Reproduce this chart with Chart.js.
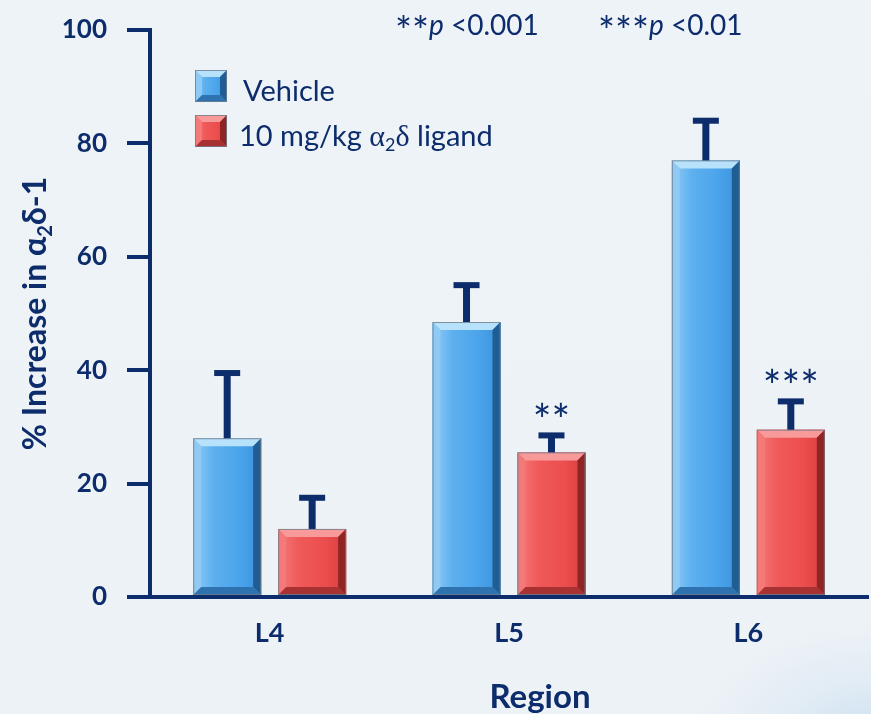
<!DOCTYPE html>
<html><head><meta charset="utf-8">
<script src="https://cdn.jsdelivr.net/npm/chart.js@4"></script>
<style>
html,body{margin:0;padding:0;}
body{width:871px;height:714px;overflow:hidden;position:relative;
background:radial-gradient(ellipse 180px 120px at 100% 104%, rgba(200,222,240,0.9) 0%, rgba(220,233,244,0.6) 55%, rgba(238,243,247,0) 100%),linear-gradient(180deg,#eef3f7 0%,#edf2f6 100%);}
#wrap{position:absolute;left:0;top:0;width:871px;height:714px}
</style></head><body>
<div id="wrap"><canvas id="c" width="871" height="714"></canvas></div>
<script>
// ---- data ----
const regions = ['L4', 'L5', 'L6'];
const vehicleValues = [28, 48.5, 77];
const vehicleErrorTop = [39.5, 55, 84];
const ligandValues = [12, 25.5, 29.5];
const ligandErrorTop = [17.5, 28.5, 34.5];
const ligandSignificance = ['', '**', '***'];
const yTickValues = [0, 20, 40, 60, 80, 100];
const seriesNames = ['Vehicle', '10 mg/kg α₂δ ligand'];
const yTitle = '% Increase in α₂δ-1';
const xTitle = 'Region';
const footnotes = [
  [{t:'**', star:true}, {t:'p', italic:true}, {t:' <0.001'}],
  [{t:'***', star:true}, {t:'p', italic:true}, {t:' <0.01'}]
];

// ---- styles ----
const NAVY = '#0c2c6c';
const FONT = 'Lato, "Open Sans", sans-serif';
const SERIF = '"Liberation Serif", "DejaVu Serif", serif';
const palettes = [
  {grad:['#90cbf5','#5db0ef','#4aa3ea','#3b90d9'], top:'#b8e1fb', left:'#8ecaf4', right:'#1f5d94', bottom:'#2e72b0', base:'#4aa3ea'},
  {grad:['#f47a7a','#f05a5a','#ec4d4d','#d83e3e'], top:'#f89a9a', left:'#f47a7a', right:'#8f2424', bottom:'#a83232', base:'#ee4f4f'}
];

function richSegments(text, size, weight, greekSerif) {
  const segs = [];
  let buf = '';
  const flush = () => { if (buf) { segs.push({t:buf, size, weight, dy:0}); buf=''; } };
  for (const ch of text) {
    if (ch === '₂') {
      flush();
      segs.push({t:'2', size:Math.round(size*0.62), weight, dy:size*0.18});
    } else if (greekSerif && (ch === 'α' || ch === 'δ')) {
      flush();
      segs.push({t:ch, size:Math.round(size*1.05), weight, family:SERIF, dy:0});
    } else buf += ch;
  }
  flush();
  return segs;
}
function fontOf(s){ return (s.italic?'italic ':'') + (s.weight||'normal') + ' ' + s.size + 'px ' + (s.family||FONT); }
// draws segments on an alphabetic baseline
function drawRich(ctx, segs, x, baseline, align) {
  ctx.save();
  ctx.textBaseline = 'alphabetic';
  ctx.textAlign = 'left';
  let w = 0;
  for (const s of segs) { ctx.font = fontOf(s); w += ctx.measureText(s.t).width; }
  let cx = align === 'center' ? x - w/2 : x;
  for (const s of segs) {
    ctx.font = fontOf(s);
    let dy = s.dy || 0;
    if (s.centerY !== undefined) {
      const m = ctx.measureText(s.t);
      dy = (s.centerY + (m.actualBoundingBoxAscent - m.actualBoundingBoxDescent)/2) - baseline;
    }
    ctx.fillText(s.t, cx, baseline + dy);
    cx += ctx.measureText(s.t).width;
  }
  ctx.restore();
}

function drawBevelBox(ctx, left, top, right, bottom, pal, b) {
  const g = ctx.createLinearGradient(left, 0, right, 0);
  g.addColorStop(0, pal.grad[0]); g.addColorStop(0.3, pal.grad[1]);
  g.addColorStop(0.7, pal.grad[2]); g.addColorStop(1, pal.grad[3]);
  ctx.fillStyle = g;
  ctx.fillRect(left, top, right-left, bottom-top);
  const poly = (pts, col) => { ctx.beginPath(); ctx.moveTo(pts[0][0], pts[0][1]); for (let i=1;i<pts.length;i++) ctx.lineTo(pts[i][0], pts[i][1]); ctx.closePath(); ctx.fillStyle = col; ctx.fill(); };
  poly([[left,top],[right,top],[right-b,top+b],[left+b,top+b]], pal.top);
  poly([[left,top],[left+b,top+b],[left+b,bottom-b],[left,bottom]], pal.left);
  poly([[right,top],[right,bottom],[right-b,bottom-b],[right-b,top+b]], pal.right);
  poly([[left,bottom],[left+b,bottom-b],[right-b,bottom-b],[right,bottom]], pal.bottom);
  ctx.strokeStyle = 'rgba(110,125,140,0.8)'; ctx.lineWidth = 1;
  ctx.strokeRect(left+0.5, top+0.5, right-left-1, bottom-top-1);
}

const decor = {
  id: 'decor',
  afterDatasetsDraw(chart) {
    const ctx = chart.ctx;
    const yScale = chart.scales.y;
    const errs = [vehicleErrorTop, ligandErrorTop];
    chart.data.datasets.forEach((ds, di) => {
      const meta = chart.getDatasetMeta(di);
      meta.data.forEach((el, i) => {
        const p = el.getProps(['x','y','base','width'], true);
        const left = p.x - p.width/2, right = p.x + p.width/2;
        ctx.save();
        drawBevelBox(ctx, left, p.y, right, p.base, palettes[di], 8);
        // error bar
        const ey = yScale.getPixelForValue(errs[di][i]);
        ctx.fillStyle = NAVY;
        ctx.fillRect(p.x - 3.5, ey, 7, p.y - ey);
        ctx.fillRect(p.x - 13, ey - 3, 26, 6);
        // significance
        if (di === 1 && ligandSignificance[i]) {
          ctx.font = '44px ' + FONT;
          ctx.textAlign = 'center';
          ctx.textBaseline = 'alphabetic';
          const m = ctx.measureText(ligandSignificance[i]);
          const centerY = ey - 26;
          const base = centerY + (m.actualBoundingBoxAscent - m.actualBoundingBoxDescent)/2;
          ctx.fillText(ligandSignificance[i], p.x, base);
        }
        ctx.restore();
      });
    });
  },
  afterDraw(chart) {
    const ctx = chart.ctx;
    ctx.save();
    ctx.fillStyle = NAVY;
    // legend
    const lx = 195, ly = [70, 115], tx = [243, 239], tb = [101, 146];
    chart.data.datasets.forEach((ds, di) => {
      drawBevelBox(ctx, lx, ly[di], lx+32, ly[di]+32, palettes[di], 7);
      ctx.fillStyle = NAVY;
      drawRich(ctx, richSegments(ds.label, 29, 'normal', true), tx[di], tb[di], 'left');
    });
    // footnotes
    const fx = [395, 598];
    footnotes.forEach((segs, k) => {
      drawRich(ctx, segs.map(s => s.star
        ? {t:s.t, size:40, weight:'normal', centerY:21}
        : {t:s.t, size:28, weight:'normal', italic:!!s.italic, dy:0}), fx[k], 35, 'left');
    });
    // x title
    drawRich(ctx, [{t:xTitle, size:33, weight:'bold', dy:0}], 540, 708, 'center');
    // y title
    const a = chart.chartArea;
    ctx.translate(46, (a.top + a.bottom)/2);
    ctx.rotate(-Math.PI/2);
    drawRich(ctx, richSegments(yTitle, 32, 'bold', false), 0, 0, 'center');
    ctx.restore();
  }
};

new Chart(document.getElementById('c'), {
  type: 'bar',
  data: {
    labels: regions,
    datasets: [
      {label: seriesNames[0], data: vehicleValues, backgroundColor: palettes[0].base},
      {label: seriesNames[1], data: ligandValues, backgroundColor: palettes[1].base}
    ]
  },
  options: {
    responsive: false,
    animation: false,
    devicePixelRatio: 1,
    categoryPercentage: 0.71,
    barPercentage: 0.8,
    layout: {padding: {top: 30, right: 3, left: 0, bottom: 0}},
    plugins: {legend: {display: false}, tooltip: {enabled: false}, title: {display: false}},
    scales: {
      x: {
        z: 1,
        grid: {display: false, drawTicks: false},
        border: {display: true, color: NAVY, width: 4},
        ticks: {color: NAVY, font: {family: FONT, size: 27, weight: 'bold'}, padding: 20},
        title: {display: false, text: xTitle},
        afterFit(scale) { scale.height = 117; }
      },
      y: {
        min: 0, max: 100,
        afterBuildTicks(scale) { scale.ticks = yTickValues.map(v => ({value: v})); },
        grid: {drawOnChartArea: false, drawTicks: true, tickLength: 23, color: NAVY, lineWidth: 4},
        border: {display: true, color: NAVY, width: 4},
        ticks: {color: NAVY, font: {family: FONT, size: 26, weight: 'bold'}, padding: 20},
        afterFit(scale) { scale.width = 150; scale.paddingTop = 10; scale.paddingBottom = 10; }
      }
    }
  },
  plugins: [decor]
});
</script>
</body></html>
